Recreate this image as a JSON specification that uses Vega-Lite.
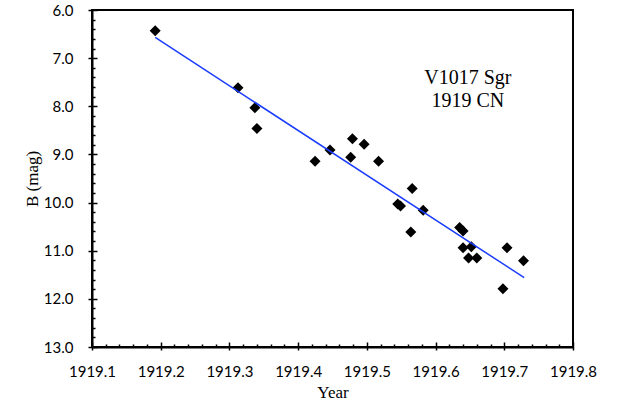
{
  "$schema": "https://vega.github.io/schema/vega-lite/v6.json",
  "autosize": "none",
  "width": 481,
  "height": 337,
  "padding": {"left": 92, "top": 10, "right": 49, "bottom": 60},
  "background": "white",
  "config": {
    "view": {"stroke": "black", "strokeWidth": 2},
    "axis": {"grid": false}
  },
  "datasets": {
    "obs": [
      {"year": 1919.192, "mag": 6.43},
      {"year": 1919.3125, "mag": 7.615},
      {"year": 1919.337, "mag": 8.03},
      {"year": 1919.340, "mag": 8.46},
      {"year": 1919.4246, "mag": 9.14},
      {"year": 1919.4464, "mag": 8.91},
      {"year": 1919.479, "mag": 8.675},
      {"year": 1919.496, "mag": 8.79},
      {"year": 1919.4765, "mag": 9.06},
      {"year": 1919.517, "mag": 9.14},
      {"year": 1919.566, "mag": 9.71},
      {"year": 1919.545, "mag": 10.03},
      {"year": 1919.549, "mag": 10.07},
      {"year": 1919.564, "mag": 10.61},
      {"year": 1919.582, "mag": 10.16},
      {"year": 1919.635, "mag": 10.52},
      {"year": 1919.640, "mag": 10.59},
      {"year": 1919.640, "mag": 10.94},
      {"year": 1919.652, "mag": 10.92},
      {"year": 1919.648, "mag": 11.15},
      {"year": 1919.660, "mag": 11.15},
      {"year": 1919.704, "mag": 10.94},
      {"year": 1919.728, "mag": 11.21},
      {"year": 1919.698, "mag": 11.79}
    ],
    "fit": [
      {"year": 1919.192, "mag": 6.57},
      {"year": 1919.729, "mag": 11.56}
    ],
    "label": [
      {"year": 1919.647, "mag": 7.42, "text": ["V1017 Sgr", "1919 CN"]}
    ]
  },
  "layer": [
    {
      "data": {"name": "obs"},
      "mark": {"type": "point", "shape": "diamond", "filled": true, "color": "black", "opacity": 1, "size": 121},
      "encoding": {
        "x": {
          "field": "year", "type": "quantitative",
          "scale": {"domain": [1919.1, 1919.8], "nice": false, "zero": false},
          "axis": {
            "orient": "bottom",
            "values": [1919.1,1919.2,1919.3,1919.4,1919.5,1919.6,1919.7,1919.8],
            "format": ".1f",
            "ticks": false,
            "domainColor": "black", "domainWidth": 2,
            "labelFont": "Lato", "labelFontSize": 15, "labelColor": "black", "labelPadding": 17,
            "labelFlush": false, "labelOverlap": false,
            "title": "Year", "titleFont": "Liberation Serif", "titleFontSize": 17, "titleFontWeight": "normal", "titleColor": "black", "titlePadding": 5
          }
        },
        "y": {
          "field": "mag", "type": "quantitative",
          "scale": {"domain": [6, 13], "reverse": true, "nice": false, "zero": false},
          "axis": {
            "orient": "left",
            "values": [6,7,8,9,10,11,12,13],
            "format": ".1f",
            "ticks": false,
            "domainColor": "black", "domainWidth": 2,
            "labelFont": "Lato", "labelFontSize": 15, "labelColor": "black", "labelPadding": 19,
            "labelFlush": false, "labelOverlap": false,
            "title": "B (mag)", "titleFont": "Liberation Serif", "titleFontSize": 17, "titleFontWeight": "normal", "titleColor": "black", "titlePadding": 2
          }
        }
      }
    },
    {
      "data": {"name": "fit"},
      "mark": {"type": "line", "color": "#1a3cff", "strokeWidth": 1.5},
      "encoding": {
        "x": {
          "field": "year", "type": "quantitative",
          "axis": {
            "orient": "bottom",
            "values": [1919.1,1919.12,1919.14,1919.16,1919.18,1919.2,1919.22,1919.24,1919.26,1919.28,1919.3,1919.32,1919.34,1919.36,1919.38,1919.4,1919.42,1919.44,1919.46,1919.48,1919.5,1919.52,1919.54,1919.56,1919.58,1919.6,1919.62,1919.64,1919.66,1919.68,1919.7,1919.72,1919.74,1919.76,1919.78,1919.8],
            "labels": false, "domain": false, "title": null,
            "tickSize": {"condition": {"test": "abs(datum.value*10 - round(datum.value*10)) < 0.01", "value": 3}, "value": -3},
            "tickColor": "black", "tickWidth": 1.5
          }
        },
        "y": {
          "field": "mag", "type": "quantitative",
          "axis": {
            "orient": "left",
            "values": [6,6.2,6.4,6.6,6.8,7,7.2,7.4,7.6,7.8,8,8.2,8.4,8.6,8.8,9,9.2,9.4,9.6,9.8,10,10.2,10.4,10.6,10.8,11,11.2,11.4,11.6,11.8,12,12.2,12.4,12.6,12.8,13],
            "labels": false, "domain": false, "title": null,
            "tickSize": {"condition": {"test": "abs(datum.value - round(datum.value)) < 0.01", "value": 4}, "value": -3},
            "tickColor": "black", "tickWidth": 1.5
          }
        }
      }
    },
    {
      "data": {"name": "label"},
      "mark": {"type": "text", "font": "Liberation Serif", "fontSize": 20, "color": "black", "align": "center", "baseline": "middle", "lineHeight": 23},
      "encoding": {
        "x": {
          "field": "year", "type": "quantitative",
          "axis": {
            "orient": "bottom",
            "values": [1919.1,1919.2,1919.3,1919.4,1919.5,1919.6,1919.7,1919.8],
            "labels": false, "domain": false, "title": null,
            "tickSize": -5, "tickColor": "black", "tickWidth": 1.5
          }
        },
        "y": {
          "field": "mag", "type": "quantitative",
          "axis": {
            "orient": "left",
            "values": [6,7,8,9,10,11,12,13],
            "labels": false, "domain": false, "title": null,
            "tickSize": -5, "tickColor": "black", "tickWidth": 1.5
          }
        },
        "text": {"field": "text"}
      }
    }
  ],
  "resolve": {"axis": {"x": "independent", "y": "independent"}}
}
